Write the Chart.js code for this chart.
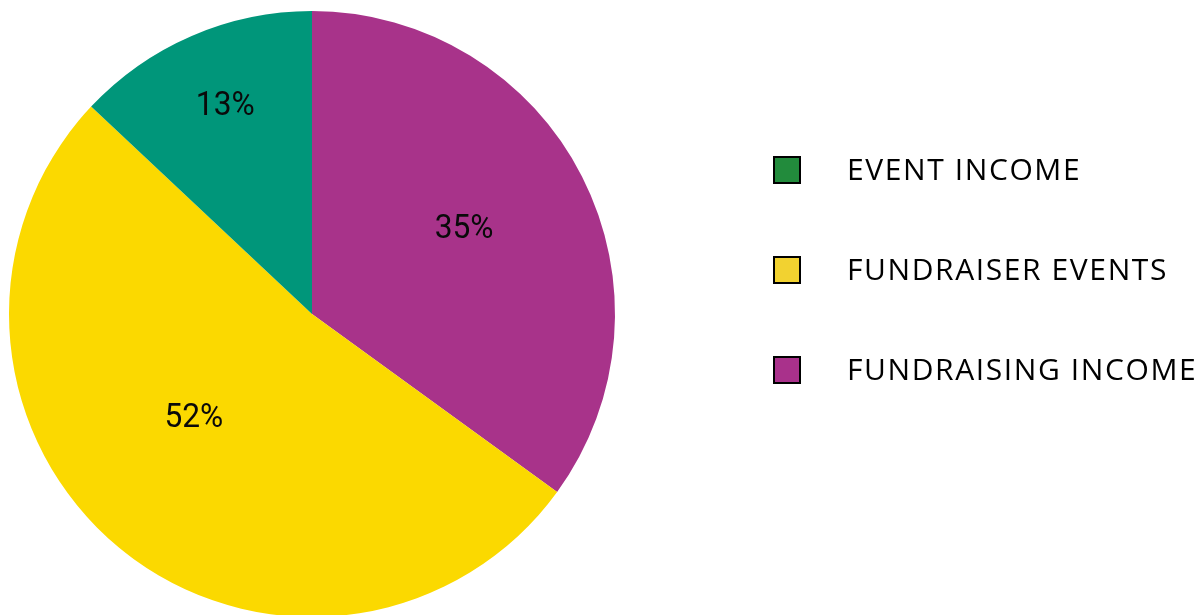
<!DOCTYPE html>
<html>
<head>
<meta charset="utf-8">
<script src="https://cdn.jsdelivr.net/npm/chart.js@4"></script>
<style>
  html, body { margin: 0; padding: 0; background: #fff; overflow: hidden; }
  #wrap { position: relative; width: 1204px; height: 620px; }
</style>
</head>
<body>
<div id="wrap"><canvas id="pieChart"></canvas></div>
<script>
// slices go clockwise from 12 o'clock
const categories = ['FUNDRAISING INCOME', 'FUNDRAISER EVENTS', 'EVENT INCOME'];
const values = [35, 52, 13];
const valueLabels = ['35%', '52%', '13%'];
const sliceColors = ['#a8338a', '#fbd900', '#00967a'];
const legendColors = ['#a9318b', '#f2d230', '#228b3c'];

// label placement inside each slice: fraction of radius, angle shift in degrees
const labelRadius = [0.575, 0.52, 0.745];
const labelShift = [-2.2, 9, 0.8];

const sliceLabels = {
    id: 'sliceLabels',
    afterDatasetsDraw(chart) {
        const ctx = chart.ctx;
        const arcs = chart.getDatasetMeta(0).data;
        ctx.save();
        ctx.letterSpacing = '0px';
        ctx.font = '33px Roboto';
        ctx.fillStyle = '#0a0a0a';
        ctx.textAlign = 'center';
        ctx.textBaseline = 'middle';
        arcs.forEach((arc, i) => {
            const p = arc.getProps(['x', 'y', 'startAngle', 'endAngle', 'outerRadius'], true);
            const mid = (p.startAngle + p.endAngle) / 2 + labelShift[i] * Math.PI / 180;
            const r = p.outerRadius * labelRadius[i];
            const x = p.x + Math.cos(mid) * r;
            const y = p.y + Math.sin(mid) * r;
            ctx.save();
            ctx.translate(x, y);
            ctx.scale(0.96, 1);
            ctx.fillText(valueLabels[i], 0, 1);
            ctx.restore();
        });
        ctx.restore();
    }
};

// legend listed bottom slice first, like the original
const sideLegend = {
    id: 'sideLegend',
    afterDraw(chart) {
        const ctx = chart.ctx;
        const left = 774, top = 170, step = 100, box = 26;
        ctx.save();
        ctx.font = '30px "Open Sans"';
        ctx.letterSpacing = '1.6px';
        ctx.textBaseline = 'middle';
        ctx.textAlign = 'left';
        const order = categories.map((c, i) => i).reverse();
        order.forEach((idx, row) => {
            const y = top + row * step;
            ctx.fillStyle = legendColors[idx];
            ctx.fillRect(left, y - box / 2, box, box);
            ctx.lineWidth = 2;
            ctx.strokeStyle = '#000';
            ctx.strokeRect(left, y - box / 2, box, box);
            ctx.fillStyle = '#000';
            ctx.fillText(categories[idx], left + box + 47, y + 1);
        });
        ctx.restore();
    }
};

new Chart(document.getElementById('pieChart'), {
    type: 'pie',
    data: {
        labels: categories,
        datasets: [{
            data: values,
            backgroundColor: sliceColors,
            borderWidth: 0
        }]
    },
    options: {
        responsive: true,
        maintainAspectRatio: false,
        animation: false,
        layout: { padding: { left: 9, top: 11, right: 589, bottom: 3 } },
        plugins: {
            legend: { display: false },
            tooltip: { enabled: false }
        }
    },
    plugins: [sliceLabels, sideLegend]
});
</script>
</body>
</html>
